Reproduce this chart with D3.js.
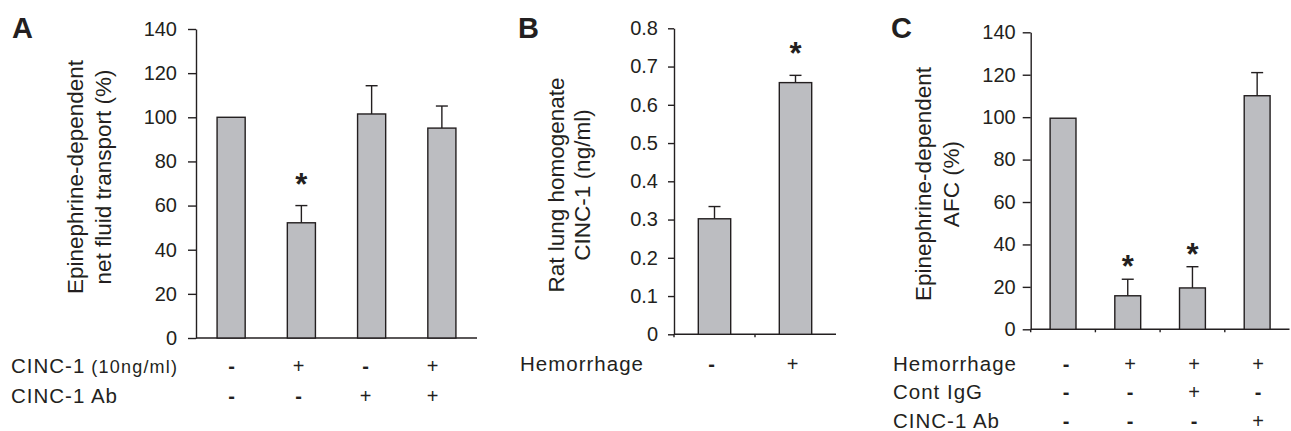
<!DOCTYPE html>
<html lang="en">
<head>
<meta charset="UTF-8">
<title>CINC-1 and epinephrine-dependent fluid transport</title>
<script src="https://d3js.org/d3.v7.min.js"></script>
<style>
  html, body { margin: 0; background: #fff; }
  svg { display: block; }
  text { font-family: "Liberation Sans", Arial, Helvetica, sans-serif; fill: #231f20; }
  .bar { fill: #bcbdc1; stroke: #231f20; stroke-width: 1.4px; }
  .axis-line, .err { stroke: #231f20; stroke-width: 1.4px; fill: none; }
  .title { font-size: 22.5px; }
  .row { font-size: 20.5px; letter-spacing: 1px; }
  .row .sub { font-size: 18px; letter-spacing: 1.2px; }
  .sign { font-size: 20px; }
  .sign.minus { font-weight: bold; }
  .letter { font-size: 29px; font-weight: bold; }
  .star { font-size: 31px; font-weight: bold; }
</style>
</head>
<body>
<svg width="1291" height="431"></svg>
<script>
// --- panel A: CINC-1 in vitro
const aGroups = ["ctrl", "cinc", "ab", "cinc+ab"];
const aValues = [100, 52.2, 101.5, 95.1];
const aErrors = [0, 7.8, 12.8, 10];
const aStars = [false, true, false, false];
const aTicks = [0, 20, 40, 60, 80, 100, 120, 140];
const aTitle = ["Epinephrine-dependent", "net fluid transport (%)"];
const aRowLabels = ["CINC-1", "CINC-1 Ab"];
const aRowSigns = [["-", "+", "-", "+"], ["-", "-", "+", "+"]];

// --- panel B: lung homogenate CINC-1
const bGroups = ["sham", "hem"];
const bValues = [0.302, 0.658];
const bErrors = [0.032, 0.019];
const bStars = [false, true];
const bTicks = [0, 0.1, 0.2, 0.3, 0.4, 0.5, 0.6, 0.7, 0.8];
const bTitle = ["Rat lung homogenate", "CINC-1 (ng/ml)"];
const bRowLabels = ["Hemorrhage"];
const bRowSigns = [["-", "+"]];

// --- panel C: AFC after hemorrhage
const cGroups = ["sham", "hem", "hem+igg", "hem+ab"];
const cValues = [99.5, 15.8, 19.5, 110.1];
const cErrors = [0, 7.8, 10, 10.9];
const cStars = [false, true, true, false];
const cTicks = [0, 20, 40, 60, 80, 100, 120, 140];
const cTitle = ["Epinephrine-dependent", "AFC (%)"];
const cRowLabels = ["Hemorrhage", "Cont IgG", "CINC-1 Ab"];
const cRowSigns = [["-", "+", "+", "+"], ["-", "-", "+", "-"], ["-", "-", "-", "+"]];

const svg = d3.select("svg");

function drawPanel(p) {
  const g = svg.append("g");

  const x = d3.scaleBand().domain(p.groups).range(p.xRange)
    .paddingInner(0.6).paddingOuter(0.3);
  const y = d3.scaleLinear().domain([0, p.yMax]).range(p.yRange);
  const signX = d3.scaleBand().domain(p.groups).range(p.signRange || p.xRange);

  // y axis
  const yAxis = d3.axisLeft(y).tickValues(p.ticks).tickSize(p.tickLen)
    .tickSizeOuter(0).tickPadding(p.tickPad)
    .tickFormat(d => d === 0 ? "0" : d3.format(p.fmt)(d));
  const ax = g.append("g").attr("transform", `translate(${p.xRange[0]},0)`).call(yAxis);
  ax.attr("font-size", null).attr("font-family", null);
  ax.selectAll("path, line").attr("stroke", "#231f20").attr("stroke-width", 1.4);
  ax.selectAll("text").style("font-size", "20px").attr("fill", "#231f20");

  // x axis baseline
  g.append("line").attr("class", "axis-line")
    .attr("x1", p.xRange[0]).attr("x2", p.xRange[1])
    .attr("y1", y(0)).attr("y2", y(0));
  if (p.xTicks) {
    g.selectAll(".xtick").data(p.groups).enter().append("line")
      .attr("class", "axis-line")
      .attr("x1", d => x(d) - x.step() * 0.3).attr("x2", d => x(d) - x.step() * 0.3)
      .attr("y1", y(0)).attr("y2", y(0) + 3);
  }

  const rows = p.groups.map((d, i) => ({ key: d, v: p.values[i], e: p.errors[i], star: p.stars[i] }));

  // error bars
  const eb = g.selectAll(".eb").data(rows.filter(d => d.e > 0)).enter().append("g");
  eb.append("line").attr("class", "err")
    .attr("x1", d => x(d.key) + x.bandwidth() / 2).attr("x2", d => x(d.key) + x.bandwidth() / 2)
    .attr("y1", d => y(d.v)).attr("y2", d => y(d.v + d.e));
  eb.append("line").attr("class", "err")
    .attr("x1", d => x(d.key) + x.bandwidth() / 2 - 6).attr("x2", d => x(d.key) + x.bandwidth() / 2 + 6)
    .attr("y1", d => y(d.v + d.e)).attr("y2", d => y(d.v + d.e));

  // bars
  g.selectAll(".bar").data(rows).enter().append("rect")
    .attr("class", "bar")
    .attr("x", d => x(d.key)).attr("width", x.bandwidth())
    .attr("y", d => y(d.v)).attr("height", d => y(0) - y(d.v));

  // significance stars
  g.selectAll(".star").data(rows.filter(d => d.star)).enter().append("text")
    .attr("class", "star").attr("text-anchor", "middle")
    .attr("x", d => x(d.key) + x.bandwidth() / 2)
    .attr("y", d => y(d.v + d.e) - p.starGap + 16)
    .text("*");

  // y title
  p.title.forEach((t, i) => {
    g.append("text").attr("class", "title").attr("text-anchor", "middle")
      .attr("transform", `translate(${p.titleX[i]},${p.titleY}) rotate(-90)`)
      .text(t);
  });

  // panel letter
  g.append("text").attr("class", "letter").attr("x", p.letterX).attr("y", 38).text(p.letter);

  // condition rows
  p.rowLabels.forEach((lab, r) => {
    const t = g.append("text").attr("class", "row").attr("x", p.rowX).attr("y", p.rowY[r]);
    t.append("tspan").text(lab);
    if (p.rowSub && p.rowSub[r]) t.append("tspan").attr("class", "sub").attr("dx", 6).text(p.rowSub[r]);
    g.selectAll(null).data(p.rowSigns[r]).enter().append("text")
      .attr("class", d => d === "-" ? "sign minus" : "sign").attr("text-anchor", "middle")
      .attr("x", (d, i) => signX(p.groups[i]) + signX.bandwidth() / 2)
      .attr("y", p.rowY[r])
      .text(d => d);
  });
}

drawPanel({
  groups: aGroups, values: aValues, errors: aErrors, stars: aStars, ticks: aTicks,
  yMax: 140, fmt: "d", xRange: [196, 477], yRange: [338, 29], signRange: [198, 466],
  tickLen: 8, tickPad: 11, xTicks: false, starGap: 27,
  title: aTitle, titleX: [83, 111], titleY: 177,
  letter: "A", letterX: 12,
  rowLabels: aRowLabels, rowSub: ["(10ng/ml)", null], rowSigns: aRowSigns, rowX: 11, rowY: [373, 403]
});

drawPanel({
  groups: bGroups, values: bValues, errors: bErrors, stars: bStars, ticks: bTicks,
  yMax: 0.8, fmt: ".1f", xRange: [674, 836], yRange: [334.3, 28.3], signRange: [671, 833],
  tickLen: 6, tickPad: 10, xTicks: true, starGap: 27,
  title: bTitle, titleX: [564, 590], titleY: 185,
  letter: "B", letterX: 518,
  rowLabels: bRowLabels, rowSigns: bRowSigns, rowX: 520, rowY: [371]
});

drawPanel({
  groups: cGroups, values: cValues, errors: cErrors, stars: cStars, ticks: cTicks,
  yMax: 140, fmt: "d", xRange: [1030.7, 1289.5], yRange: [329.3, 32.3], signRange: [1034, 1290],
  tickLen: 8, tickPad: 7, xTicks: true, starGap: 18,
  title: cTitle, titleX: [931, 959], titleY: 184,
  letter: "C", letterX: 891,
  rowLabels: cRowLabels, rowSigns: cRowSigns, rowX: 893, rowY: [371, 399, 428]
});
</script>
</body>
</html>
